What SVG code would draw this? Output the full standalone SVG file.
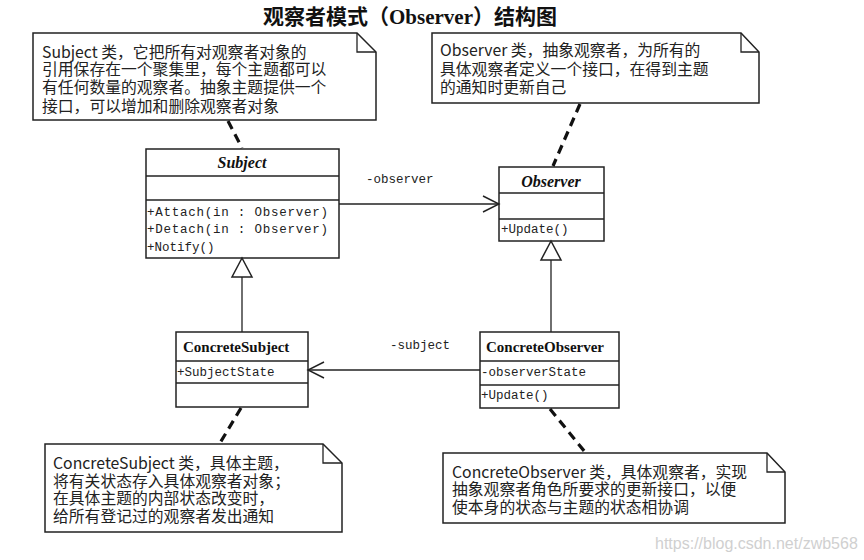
<svg xmlns="http://www.w3.org/2000/svg" width="864" height="560" viewBox="0 0 864 560">
<defs>
<style>
.box{fill:#fff;stroke:#222;stroke-width:1.5}
.ln{fill:none;stroke:#222;stroke-width:1.3}
.dash{fill:none;stroke:#111;stroke-width:3.2;stroke-dasharray:9 6}
.note{font-family:"Noto Sans CJK SC","Liberation Sans",sans-serif;font-size:15.8px;fill:#222}
.mem{font-family:"Liberation Mono","DejaVu Sans Mono",monospace;font-size:12.5px;fill:#222}
.cname{font-family:"Liberation Serif",serif;font-weight:bold;font-size:15px;fill:#111}
.aname{font-family:"Liberation Serif",serif;font-weight:bold;font-style:italic;font-size:16px;fill:#111}
</style>
<marker id="open" viewBox="0 0 20 20" refX="18" refY="10" markerWidth="20" markerHeight="20" markerUnits="userSpaceOnUse" orient="auto">
<path d="M2,2 L18,10 L2,18" fill="none" stroke="#222" stroke-width="1.4"/>
</marker>
</defs>
<rect width="864" height="560" fill="#fff"/>

<text x="410" y="24" text-anchor="middle" font-family="Noto Sans CJK SC, sans-serif" font-weight="bold" font-size="21" fill="#111">观察者模式（<tspan font-family="Liberation Serif, serif">Observer</tspan>）结构图</text>

<g id="note-subject">
<path class="box" d="M33,33 H357 L376,52 V120 H33 Z"/>
<path class="ln" d="M357,33 V52 H376"/>
<text class="note" x="42" y="58">Subject 类，它把所有对观察者对象的</text>
<text class="note" x="42" y="75">引用保存在一个聚集里，每个主题都可以</text>
<text class="note" x="42" y="93">有任何数量的观察者。抽象主题提供一个</text>
<text class="note" x="42" y="112">接口，可以增加和删除观察者对象</text>
</g>

<g id="note-observer">
<path class="box" d="M432,33 H741 L759,52 V103 H432 Z"/>
<path class="ln" d="M741,33 V52 H759"/>
<text class="note" x="440" y="56">Observer 类，抽象观察者，为所有的</text>
<text class="note" x="440" y="75">具体观察者定义一个接口，在得到主题</text>
<text class="note" x="440" y="93">的通知时更新自己</text>
</g>

<g id="subject">
<rect class="box" x="146" y="149" width="193" height="109"/>
<line class="ln" x1="146" y1="176" x2="339" y2="176"/>
<line class="ln" x1="146" y1="200" x2="339" y2="200"/>
<text class="aname" x="242" y="168" text-anchor="middle">Subject</text>
<text class="mem" x="147" y="216" textLength="181" lengthAdjust="spacing">+Attach(in  : Observer)</text>
<text class="mem" x="147" y="233" textLength="181" lengthAdjust="spacing">+Detach(in  : Observer)</text>
<text class="mem" x="147" y="251">+Notify()</text>
</g>

<g id="observer">
<rect class="box" x="499" y="167" width="105" height="74"/>
<line class="ln" x1="499" y1="193" x2="604" y2="193"/>
<line class="ln" x1="499" y1="219" x2="604" y2="219"/>
<text class="aname" x="551" y="187" text-anchor="middle">Observer</text>
<text class="mem" x="501" y="233">+Update()</text>
</g>

<g id="concrete-subject">
<rect class="box" x="176" y="332" width="132" height="75"/>
<line class="ln" x1="176" y1="361" x2="308" y2="361"/>
<line class="ln" x1="176" y1="383" x2="308" y2="383"/>
<text class="cname" x="183" y="352">ConcreteSubject</text>
<text class="mem" x="177" y="376">+SubjectState</text>
</g>

<g id="concrete-observer">
<rect class="box" x="480" y="332" width="139" height="76"/>
<line class="ln" x1="480" y1="361" x2="619" y2="361"/>
<line class="ln" x1="480" y1="385" x2="619" y2="385"/>
<text class="cname" x="486" y="352">ConcreteObserver</text>
<text class="mem" x="481" y="376">-observerState</text>
<text class="mem" x="481" y="399">+Update()</text>
</g>

<g id="note-concrete-subject">
<path class="box" d="M45,444 H323 L342,463 V532 H45 Z"/>
<path class="ln" d="M323,444 V463 H342"/>
<text class="note" x="53" y="469">ConcreteSubject 类，具体主题，</text>
<text class="note" x="53" y="487">将有关状态存入具体观察者对象；</text>
<text class="note" x="53" y="504">在具体主题的内部状态改变时，</text>
<text class="note" x="53" y="522">给所有登记过的观察者发出通知</text>
</g>

<g id="note-concrete-observer">
<path class="box" d="M443,453 H767 L785,472 V523 H443 Z"/>
<path class="ln" d="M767,453 V472 H785"/>
<text class="note" x="452" y="478">ConcreteObserver 类，具体观察者，实现</text>
<text class="note" x="452" y="495">抽象观察者角色所要求的更新接口，以便</text>
<text class="note" x="452" y="513">使本身的状态与主题的状态相协调</text>
</g>

<g id="connectors">
<line class="dash" x1="228" y1="121" x2="242" y2="148"/>
<line class="dash" x1="580" y1="104" x2="553" y2="166"/>
<line class="dash" x1="241" y1="408" x2="220" y2="443"/>
<line class="dash" x1="550" y1="409" x2="585" y2="452"/>
<line class="ln" x1="339" y1="204" x2="499" y2="204" marker-end="url(#open)"/>
<text class="mem" x="366" y="183">-observer</text>
<line class="ln" x1="480" y1="370" x2="308" y2="370" marker-end="url(#open)"/>
<text class="mem" x="390" y="349">-subject</text>
<line class="ln" x1="242" y1="277" x2="242" y2="332"/>
<path class="box" d="M242,258 L252,277 H232 Z"/>
<line class="ln" x1="551" y1="260" x2="551" y2="332"/>
<path class="box" d="M551,241 L561,260 H541 Z"/>
</g>

<text x="655" y="549" font-family="Liberation Sans, sans-serif" font-size="16" fill="#d0d0d0">https://blog.csdn.net/zwb568</text>
</svg>
